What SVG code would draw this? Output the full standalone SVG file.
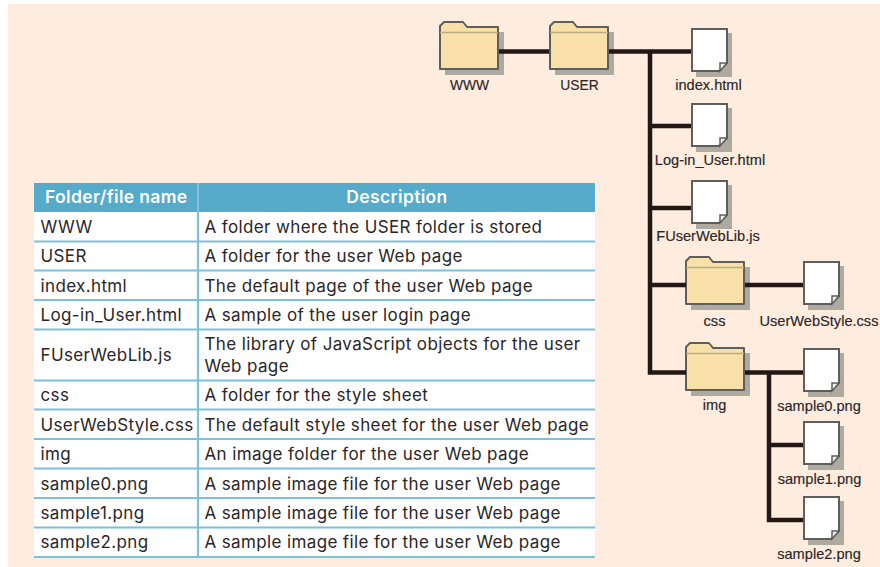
<svg xmlns="http://www.w3.org/2000/svg" xmlns:xlink="http://www.w3.org/1999/xlink" width="880" height="567" viewBox="0 0 880 567">
<style>
text{font-family:"Liberation Sans",Arial,sans-serif;fill:#2b2527}
.l{font-size:14.600px;text-anchor:middle;stroke:#2b2527;stroke-width:.15}
.u{font-size:13.800px}
.t{font-family:Inter,"Liberation Sans",sans-serif;font-size:17px;letter-spacing:.37px}
.h{font-family:Inter,"Liberation Sans",sans-serif;font-size:17.500px;font-weight:600;fill:#fff;letter-spacing:.35px}
.c{stroke:#231815;stroke-width:4.500;fill:none}
.r{stroke:#7cc0da;stroke-width:2.200;fill:none}
</style>
<defs>
<g id="folder">
<path d="M6 10H65V53H6Z" fill="#aeaaa0"/>
<path d="M1 6V4L5 0H24L28 5H59V47H1Z" fill="#f8e0a8" stroke="#5e5e5e" stroke-width="2" stroke-linejoin="round"/>
<path d="M1 10.500H59" stroke="#b9ab85" stroke-width="1.600"/>
</g>
<g id="doc">
<path d="M5 5H41V49H5Z" fill="#aeaaa0"/>
<path d="M1 1H36V35L28 43H1Z" fill="#fff" stroke="#5e5e5e" stroke-width="2"/>
<path d="M36 35H29V43Z" fill="#f3eee2" stroke="#5e5e5e" stroke-width="1.500"/>
</g>
</defs>
<rect width="880" height="567" fill="#fff"/>
<rect x="8" y="4" width="872" height="563" fill="#feeddf"/>
<g id="table">
<rect x="34" y="183" width="561" height="374" fill="#fff"/>
<rect x="34" y="183" width="561" height="29" fill="#56aaca"/>
<path class="r" d="M198 183V557M34 241.500H595M34 270.500H595M34 300H595M34 329.500H595M34 380.500H595M34 409.500H595M34 439H595M34 468.500H595M34 498H595M34 527.500H595M34 557H595"/>
<text class="h" x="45" y="203">Folder/file name</text>
<text class="h" x="397" y="203" text-anchor="middle">Description</text>
<text class="t" x="40.500" y="232.500">WWW</text><text class="t" x="204.500" y="232.500">A folder where the USER folder is stored</text>
<text class="t" x="40.500" y="262">USER</text><text class="t" x="204.500" y="262">A folder for the user Web page</text>
<text class="t" x="40.500" y="291.500">index.html</text><text class="t" x="204.500" y="291.500">The default page of the user Web page</text>
<text class="t" x="40.500" y="321">Log-in_User.html</text><text class="t" x="204.500" y="321">A sample of the user login page</text>
<text class="t" x="40.500" y="361">FUserWebLib.js</text><text class="t" x="204.500" y="350">The library of JavaScript objects for the user</text><text class="t" x="204.500" y="372">Web page</text>
<text class="t" x="40.500" y="401">css</text><text class="t" x="204.500" y="401">A folder for the style sheet</text>
<text class="t" x="40.500" y="430.500">UserWebStyle.css</text><text class="t" x="204.500" y="430.500">The default style sheet for the user Web page</text>
<text class="t" x="40.500" y="460">img</text><text class="t" x="204.500" y="460">An image folder for the user Web page</text>
<text class="t" x="40.500" y="489.500">sample0.png</text><text class="t" x="204.500" y="489.500">A sample image file for the user Web page</text>
<text class="t" x="40.500" y="519">sample1.png</text><text class="t" x="204.500" y="519">A sample image file for the user Web page</text>
<text class="t" x="40.500" y="548">sample2.png</text><text class="t" x="204.500" y="548">A sample image file for the user Web page</text>
</g>
<g id="n-www"><use xlink:href="#folder" href="#folder" x="439" y="22"/><text class="l u" x="469.500" y="90">WWW</text></g>
<g id="n-user"><use xlink:href="#folder" href="#folder" x="549" y="22"/><text class="l u" x="579.500" y="90">USER</text></g>
<g id="n-index"><use xlink:href="#doc" href="#doc" x="691" y="28"/><text class="l" x="708.500" y="90">index.html</text></g>
<g id="n-login"><use xlink:href="#doc" href="#doc" x="691" y="103"/><text class="l" x="710" y="165">Log-in_User.html</text></g>
<g id="n-lib"><use xlink:href="#doc" href="#doc" x="691" y="180"/><text class="l" x="708" y="241">FUserWebLib.js</text></g>
<g id="n-css"><use xlink:href="#folder" href="#folder" x="685" y="257"/><text class="l" x="714.500" y="326">css</text></g>
<g id="n-style"><use xlink:href="#doc" href="#doc" x="803" y="261"/><text class="l" x="819" y="326">UserWebStyle.css</text></g>
<g id="n-img"><use xlink:href="#folder" href="#folder" x="685" y="343"/><text class="l" x="714.500" y="410">img</text></g>
<g id="n-s0"><use xlink:href="#doc" href="#doc" x="803" y="348"/><text class="l" x="819" y="411">sample0.png</text></g>
<g id="n-s1"><use xlink:href="#doc" href="#doc" x="803" y="421"/><text class="l" x="819.500" y="484">sample1.png</text></g>
<g id="n-s2"><use xlink:href="#doc" href="#doc" x="803" y="496"/><text class="l" x="819" y="559">sample2.png</text></g>
<g id="connectors">
<path class="c" d="M499 51.500H549M609 51.500H691M650 51.500V372.500H686M650 126H691M650 208H691M650 285H686M745 285H803M745 372.500H803M769 372.500V520H803M769 445H803"/>
</g>
</svg>
